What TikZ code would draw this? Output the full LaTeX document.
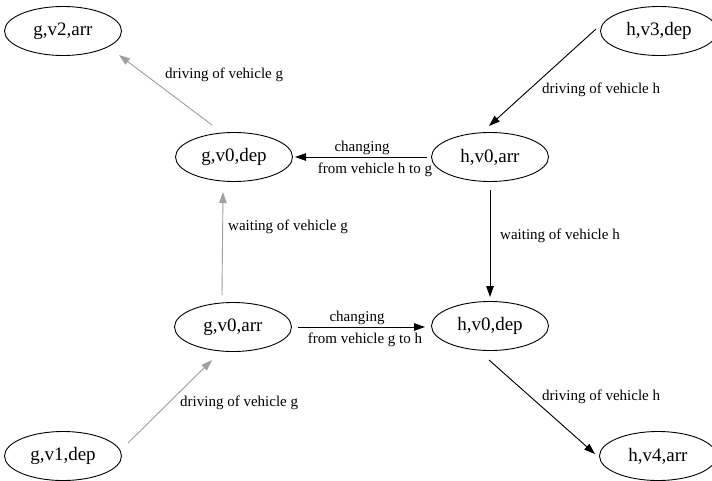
\documentclass[tikz,border=0pt]{standalone}
\usepackage{fontspec}
\setmainfont{Liberation Serif}
\usetikzlibrary{arrows.meta,shapes.geometric}
\definecolor{edgegray}{RGB}{160,160,160}
\tikzset{
  event/.style={draw=black, ellipse, line width=0.9pt, minimum width=117pt,
    minimum height=49pt, inner sep=0pt, font=\fontsize{19}{21}\selectfont},
  lbl/.style={inner sep=0pt, font=\fontsize{15}{17}\selectfont},
  arc/.style={line width=0.9pt, -{Triangle[length=11pt,width=7.5pt]}},
  waitarc/.style={arc, draw=edgegray, fill=edgegray},
  movearc/.style={arc, draw=black, fill=black}
}
\begin{document}
\begin{tikzpicture}[x=1pt,y=-1pt]
  \useasboundingbox (0,0) rectangle (712,480);

  % events
  \node[event] (gv2arr) at (63,31)  {g,v2,arr};
  \node[event] (hv3dep) at (659,31) {h,v3,dep};
  \node[event] (gv0dep) at (234,157) {g,v0,dep};
  \node[event] (hv0arr) at (490,157) {h,v0,arr};
  \node[event] (gv0arr) at (233,327) {g,v0,arr};
  \node[event] (hv0dep) at (490,326) {h,v0,dep};
  \node[event] (gv1dep) at (63,456) {g,v1,dep};
  \node[event] (hv4arr) at (658,456) {h,v4,arr};

  % activities of vehicle g (gray)
  \draw[waitarc] ([shift={(-22,-32)}]gv0dep.center) -- ([shift={(56,24)}]gv2arr.center);
  \draw[waitarc] ([shift={(-11,-32)}]gv0arr.center) -- ([shift={(-11,35)}]gv0dep.center);
  \draw[waitarc] ([shift={(65,-13)}]gv1dep.center) -- ([shift={(-21,33)}]gv0arr.center);

  % activities of vehicle h and transfers (black)
  \draw[movearc] ([shift={(-63,-2)}]hv3dep.center) -- ([shift={(-1,-31)}]hv0arr.center);
  \draw[movearc] ([shift={(-63,0)}]hv0arr.center) -- ([shift={(61,0)}]gv0dep.center);
  \draw[movearc] ([shift={(0,33)}]hv0arr.center) -- ([shift={(0,-29)}]hv0dep.center);
  \draw[movearc] ([shift={(65,0)}]gv0arr.center) -- ([shift={(-65,1)}]hv0dep.center);
  \draw[movearc] ([shift={(-1,34)}]hv0dep.center) -- ([shift={(-63,-2)}]hv4arr.center);

  % labels
  \node[lbl, anchor=west] (lgvtwo)   at (165,75)  {driving of vehicle g};
  \node[lbl, anchor=west] (lhvthree) at (542,90)  {driving of vehicle h};
  \node[lbl] (chgone) at (362,148) {changing};
  \node[lbl] (froone) at (375,170) {from vehicle h to g};
  \node[lbl, anchor=west] (waith) at (500,236) {waiting of vehicle h};
  \node[lbl, anchor=west] (waitg) at (228,227) {waiting of vehicle g};
  \node[lbl] (chgtwo) at (357,318) {changing};
  \node[lbl] (frotwo) at (365,340) {from vehicle g to h};
  \node[lbl, anchor=west] (lgvone)  at (180,403) {driving of vehicle g};
  \node[lbl, anchor=west] (lhvfour) at (542,397) {driving of vehicle h};
\end{tikzpicture}
\end{document}
